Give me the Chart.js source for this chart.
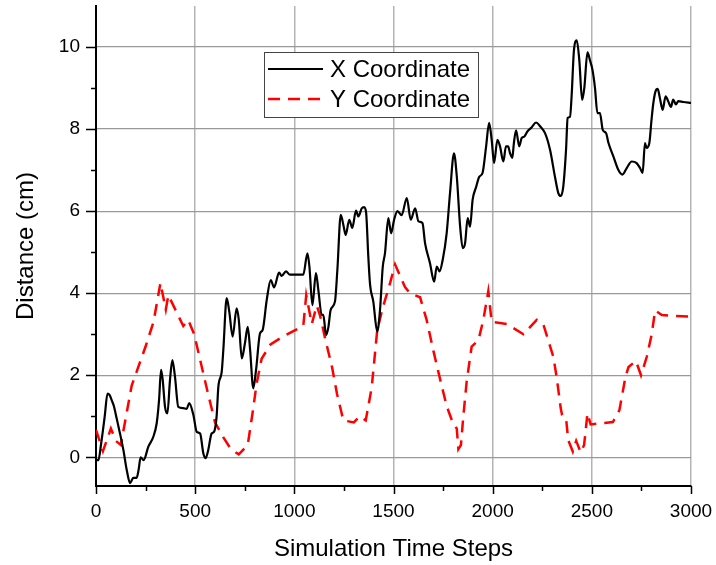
<!DOCTYPE html>
<html lang="en">
<head>
  <meta charset="UTF-8">
  <title>Distance vs Simulation Time Steps</title>
  <style>
    body {
      margin: 0;
      padding: 0;
      background-color: #fff;
    }
    #chartBox {
      width: 716px;
      height: 565px;
    }
  </style>
</head>
<body>
  <div id="chartBox">
    <canvas id="chartContainer" width="716" height="565"></canvas>
  </div>

  <script src="https://cdn.jsdelivr.net/npm/chart.js"></script>
  <script>
    // X coordinate trace
    const xCoordSteps = [0, 12, 25, 44, 58, 68, 80, 90, 104, 121, 138, 155, 172, 188, 205, 215, 225, 240, 264, 289,
      306, 318, 328, 336, 348, 360, 373, 385, 398, 415, 440, 457, 470, 491, 508, 525, 541, 553, 566, 583,
      595, 608, 617, 634, 642, 659, 672, 689, 709, 720, 735, 751, 765, 777, 793, 807, 827, 840, 861, 881,
      898, 923, 936, 958, 978, 1045, 1066, 1076, 1091, 1109, 1121, 1138, 1146, 1160, 1172, 1183, 1205, 1217, 1234, 1247,
      1259, 1277, 1292, 1311, 1323, 1340, 1352, 1362, 1373, 1382, 1398, 1418, 1432, 1446, 1457, 1474, 1488, 1503, 1520, 1541,
      1567, 1587, 1609, 1626, 1646, 1659, 1684, 1705, 1718, 1732, 1748, 1768, 1785, 1805, 1819, 1836, 1849, 1861, 1874, 1886,
      1899, 1916, 1933, 1949, 1967, 1982, 1995, 2007, 2024, 2037, 2054, 2067, 2078, 2087, 2099, 2107, 2118, 2134, 2146, 2160,
      2175, 2196, 2219, 2239, 2264, 2289, 2314, 2331, 2343, 2356, 2370, 2378, 2390, 2398, 2410, 2424, 2437, 2451, 2462, 2478,
      2491, 2503, 2516, 2528, 2541, 2555, 2572, 2584, 2609, 2634, 2654, 2676, 2701, 2726, 2743, 2756, 2768, 2776, 2790, 2801,
      2810, 2821, 2832, 2843, 2857, 2872, 2885, 2899, 2910, 2924, 2936, 2961, 3000];
    const xCoordValues = [-0.05, -0.07, 0.3, 1.0, 1.55, 1.52, 1.38, 1.25, 0.95, 0.58, 0.18, -0.31, -0.63, -0.5, -0.5, -0.3, 0.0, -0.07, 0.26, 0.5,
      0.83, 1.4, 2.13, 1.9, 1.23, 1.07, 1.88, 2.37, 1.97, 1.23, 1.2, 1.18, 1.32, 1.03, 0.62, 0.58, 0.1, -0.02, 0.18, 0.58,
      0.62, 0.99, 1.72, 2.09, 2.62, 3.88, 3.55, 2.94, 3.63, 3.35, 2.41, 2.78, 3.18, 2.62, 1.68, 2.13, 3.02, 3.1, 3.84, 4.32,
      4.14, 4.5, 4.42, 4.53, 4.45, 4.45, 4.97, 4.65, 3.71, 4.49, 4.08, 3.47, 3.47, 2.98, 3.18, 3.59, 3.8, 4.57, 5.91, 5.67,
      5.42, 5.79, 5.59, 6.01, 5.87, 6.07, 6.1, 5.96, 4.89, 4.2, 3.8, 3.06, 3.59, 4.65, 4.97, 5.83, 5.46, 5.79, 6.0, 5.9,
      6.32, 5.79, 6.07, 5.75, 5.71, 5.22, 4.73, 4.28, 4.65, 4.53, 4.81, 5.46, 6.44, 7.41, 6.85, 5.62, 5.1, 5.22, 5.83, 5.62,
      6.28, 6.58, 6.84, 6.93, 7.58, 8.15, 7.74, 7.17, 7.74, 7.58, 7.21, 7.58, 7.58, 7.42, 7.3, 7.66, 7.97, 7.58, 7.78, 7.82,
      7.94, 8.04, 8.16, 8.07, 7.9, 7.5, 6.84, 6.44, 6.37, 6.6, 7.5, 8.27, 8.3, 8.8, 9.93, 10.16, 9.67, 8.71, 9.0, 9.87,
      9.67, 9.45, 9.0, 8.39, 8.39, 7.98, 7.9, 7.66, 7.33, 7.0, 6.89, 7.05, 7.21, 7.17, 7.05, 6.93, 7.66, 7.54, 7.66, 8.23,
      8.63, 8.92, 8.98, 8.76, 8.47, 8.8, 8.68, 8.54, 8.72, 8.6, 8.68, 8.66, 8.64];

    // Y coordinate trace
    const yCoordSteps = [0, 35, 75, 100, 125, 180, 250, 290, 325, 352, 365, 440, 465, 495, 560, 600, 640, 680, 720, 765,
      790, 810, 835, 880, 945, 1045, 1060, 1088, 1113, 1130, 1155, 1190, 1215, 1247, 1300, 1330, 1360, 1390, 1418, 1446,
      1483, 1508, 1558, 1583, 1634, 1667, 1701, 1735, 1768, 1802, 1819, 1827, 1840, 1852, 1869, 1894, 1928, 1953, 1978, 1995,
      2071, 2155, 2222, 2256, 2306, 2323, 2343, 2350, 2370, 2381, 2404, 2421, 2444, 2461, 2478, 2494, 2606, 2639, 2670, 2685,
      2722, 2748, 2777, 2802, 2819, 2853, 2900, 3000];
    const yCoordValues = [0.67, 0.15, 0.7, 0.4, 0.3, 1.75, 2.7, 3.3, 4.25, 3.6, 3.95, 3.2, 3.35, 3.0, 1.65, 0.85, 0.5, 0.2, 0.07, 0.3,
      1.1, 1.8, 2.4, 2.75, 2.95, 3.2, 3.95, 3.25, 3.7, 3.45, 2.9, 2.2, 1.55, 0.9, 0.85, 1.0, 0.9, 1.7, 3.1, 3.65,
      4.25, 4.7, 4.15, 4.0, 3.9, 3.35, 2.6, 1.9, 1.25, 0.8, 0.7, 0.2, 0.3, 1.0, 1.85, 2.7, 2.85, 3.35, 4.05, 3.3,
      3.25, 3.0, 3.35, 3.23, 2.45, 1.94, 1.2, 1.03, 0.95, 0.42, 0.14, 0.4, 0.12, 0.3, 1.07, 0.8, 0.86, 1.15, 1.97, 2.2,
      2.35, 2.0, 2.45, 3.0, 3.58, 3.47, 3.45, 3.43];

    const xTicks = [0, 500, 1000, 1500, 2000, 2500, 3000];
    const xMinorTicks = [250, 750, 1250, 1750, 2250, 2750];
    const yTicks = [0, 2, 4, 6, 8, 10];
    const yMinorTicks = [1, 3, 5, 7, 9];

    const fontFamily = '"Liberation Sans", Arial, sans-serif';

    function toPoints(steps, values) {
      return steps.map((s, i) => ({ x: s, y: values[i] }));
    }

    // tick marks (major longer than minor) drawn on the axes
    const tickMarks = {
      id: 'tickMarks',
      afterDraw(chart) {
        const ctx = chart.ctx;
        const xs = chart.scales.x;
        const ys = chart.scales.y;
        const area = chart.chartArea;
        ctx.save();
        ctx.strokeStyle = '#000';
        ctx.lineWidth = 1.5;
        ctx.beginPath();
        xTicks.concat(xMinorTicks).forEach(v => {
          const px = Math.round(xs.getPixelForValue(v)) + 0.5;
          const len = xTicks.includes(v) ? 8 : 5;
          ctx.moveTo(px, area.bottom);
          ctx.lineTo(px, area.bottom + len);
        });
        yTicks.concat(yMinorTicks).forEach(v => {
          const py = Math.round(ys.getPixelForValue(v)) + 0.5;
          const len = yTicks.includes(v) ? 10 : 5;
          ctx.moveTo(area.left, py);
          ctx.lineTo(area.left - len, py);
        });
        ctx.stroke();
        ctx.restore();
      }
    };

    // boxed legend inside the plot area
    const boxLegend = {
      id: 'boxLegend',
      afterDraw(chart) {
        const ctx = chart.ctx;
        const x0 = 264, y0 = 52, w = 214, h = 65;
        ctx.save();
        ctx.fillStyle = '#fff';
        ctx.fillRect(x0, y0, w, h);
        ctx.strokeStyle = '#444';
        ctx.lineWidth = 1;
        ctx.strokeRect(x0 + 0.5, y0 + 0.5, w, h);
        chart.data.datasets.forEach((ds, i) => {
          const cy = y0 + 17 + i * 30;
          ctx.beginPath();
          ctx.strokeStyle = ds.borderColor;
          ctx.lineWidth = ds.borderWidth;
          ctx.setLineDash(ds.borderDash || []);
          ctx.moveTo(x0 + 4, cy);
          ctx.lineTo(x0 + 59, cy);
          ctx.stroke();
          ctx.setLineDash([]);
          ctx.fillStyle = '#000';
          ctx.font = '24px ' + fontFamily;
          ctx.textBaseline = 'middle';
          ctx.textAlign = 'left';
          ctx.fillText(ds.label, x0 + 66, cy + 1);
        });
        ctx.restore();
      }
    };

    Chart.defaults.color = '#000';
    Chart.defaults.font.family = fontFamily;

    new Chart(document.getElementById('chartContainer'), {
      type: 'line',
      data: {
        datasets: [{
          label: 'X Coordinate',
          data: toPoints(xCoordSteps, xCoordValues),
          borderColor: '#000',
          borderWidth: 2.2,
          pointRadius: 0,
          cubicInterpolationMode: 'monotone',
          fill: false
        }, {
          label: 'Y Coordinate',
          data: toPoints(yCoordSteps, yCoordValues),
          borderColor: '#ff0000',
          borderWidth: 2.5,
          borderDash: [12, 8],
          pointRadius: 0,
          tension: 0,
          fill: false
        }]
      },
      options: {
        responsive: false,
        animation: false,
        layout: { padding: { top: 6, right: 25, left: 0, bottom: 0 } },
        plugins: {
          legend: { display: false },
          tooltip: { enabled: false }
        },
        scales: {
          x: {
            type: 'linear',
            min: 0,
            max: 3000,
            afterBuildTicks: s => { s.ticks = xTicks.map(v => ({ value: v })); },
            afterFit: s => { s.height = 79; s.paddingLeft = 0; s.paddingRight = 0; },
            ticks: { font: { size: 19 }, padding: 14, maxRotation: 0, autoSkip: false, callback: v => String(v) },
            grid: { color: '#b4b4b4', lineWidth: 1.5, drawTicks: false },
            border: { color: '#000', width: 2 },
            title: { display: true, text: 'Simulation Time Steps', font: { size: 24 }, padding: { top: 0, bottom: 1 } }
          },
          y: {
            min: -0.7,
            max: 11,
            afterBuildTicks: s => { s.ticks = yTicks.map(v => ({ value: v })); },
            afterFit: s => { s.width = 96; s.paddingTop = 0; s.paddingBottom = 0; },
            ticks: { font: { size: 19 }, padding: 16, autoSkip: false, callback: v => String(v) },
            grid: { color: '#999', lineWidth: 1.2, drawTicks: false },
            border: { color: '#000', width: 2 },
            title: { display: true, text: 'Distance (cm)', font: { size: 24 }, padding: { top: 12, bottom: 0 } }
          }
        }
      },
      plugins: [tickMarks, boxLegend]
    });
  </script>
</body>
</html>
